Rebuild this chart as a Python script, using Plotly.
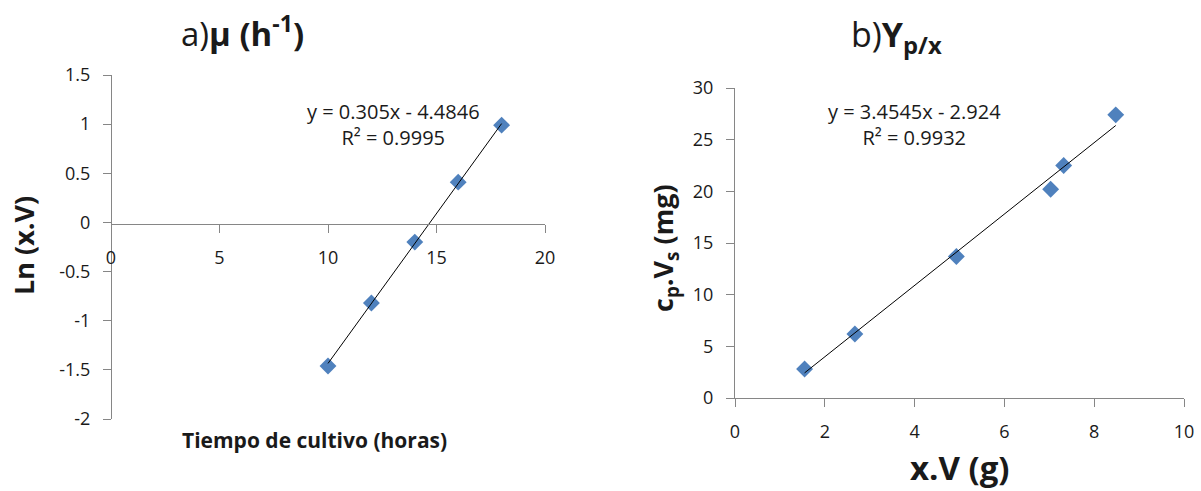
import numpy as np
import plotly.graph_objects as go

# ---- data ----
t_hours = [10, 12, 14, 16, 18]
ln_xv = [-1.46, -0.82, -0.20, 0.41, 0.99]
fit_a = (0.305, -4.4846)
eq_a = "y = 0.305x - 4.4846<br>R² = 0.9995"
ya_ticks = [-2, -1.5, -1, -0.5, 0, 0.5, 1, 1.5]
ya_labels = ["-2", "-1.5", "-1", "-0.5", "0", "0.5", "1", "1.5"]

xv_g = [1.55, 2.67, 4.93, 7.03, 7.32, 8.48]
cpvs_mg = [2.8, 6.2, 13.7, 20.2, 22.5, 27.4]
fit_b = (3.4545, -2.924)
eq_b = "y = 3.4545x - 2.924<br>R² = 0.9932"

W, H = 1201, 491
FONT = "Open Sans"
AX = "#868686"
BLUE = "#4F81BD"
TXT = "#1a1a1a"

def px(x):
    return x / W

def py(y):
    return 1 - y / H

fig = go.Figure()

# left panel
fig.add_trace(go.Scatter(x=t_hours, y=ln_xv, mode="markers",
                         marker=dict(symbol="diamond", size=13, color=BLUE),
                         xaxis="x", yaxis="y", showlegend=False))
ta = np.array([min(t_hours), max(t_hours)])
fig.add_trace(go.Scatter(x=ta, y=fit_a[0] * ta + fit_a[1], mode="lines",
                         line=dict(color="#000000", width=1),
                         xaxis="x", yaxis="y", showlegend=False))

# right panel
fig.add_trace(go.Scatter(x=xv_g, y=cpvs_mg, mode="markers",
                         marker=dict(symbol="diamond", size=13, color=BLUE),
                         xaxis="x2", yaxis="y2", showlegend=False))
tb = np.array([min(xv_g), max(xv_g)])
fig.add_trace(go.Scatter(x=tb, y=fit_b[0] * tb + fit_b[1], mode="lines",
                         line=dict(color="#000000", width=1),
                         xaxis="x2", yaxis="y2", showlegend=False))

axis_common = dict(showgrid=False, zeroline=False, showline=True, linecolor=AX,
                   linewidth=1.3, ticks="outside", tickcolor=AX, ticklen=8,
                   tickwidth=1.3, automargin=False, ticklabelstandoff=9,
                   tickfont=dict(family=FONT, size=18, color=TXT))

fig.update_layout(
    template="none",
    width=W, height=H,
    margin=dict(l=0, r=0, t=0, b=0, pad=0),
    paper_bgcolor="white", plot_bgcolor="white",
    font=dict(family=FONT, color=TXT),
    xaxis=dict(domain=[px(111), px(545)], range=[0, 20], dtick=5,
               anchor="free", position=py(224), **axis_common),
    yaxis=dict(domain=[py(419), py(75)], range=[-2, 1.5],
               tickmode="array", tickvals=ya_ticks, ticktext=ya_labels,
               anchor="free", position=px(111), **axis_common),
    xaxis2=dict(domain=[px(735), px(1184)], range=[0, 10], dtick=2,
                anchor="y2", **axis_common),
    yaxis2=dict(domain=[py(398), py(88)], range=[0, 30], dtick=5,
                anchor="x2", **axis_common),
)

ann = [
    dict(text="a)<b>μ (h<sup>-1</sup>)</b>", x=px(242), y=py(31), size=33),
    dict(text="b)<b>Y<sub>p/x</sub></b>", x=px(896), y=py(36), size=34),
    dict(text="<b>Tiempo de cultivo (horas)</b>", x=px(314), y=py(440), size=21),
    dict(text="<b>x.V (g)</b>", x=px(960), y=py(467), size=33),
    dict(text=eq_a, x=px(393), y=py(124), size=20),
    dict(text=eq_b, x=px(914), y=py(124), size=20),
]
for a in ann:
    fig.add_annotation(text=a["text"], x=a["x"], y=a["y"], xref="paper", yref="paper",
                       showarrow=False, xanchor="center", yanchor="middle",
                       font=dict(family=FONT, size=a["size"], color=TXT))

fig.add_annotation(text="<b>Ln (x.V)</b>", x=px(24), y=py(246), xref="paper", yref="paper",
                   showarrow=False, textangle=-90, xanchor="center", yanchor="middle",
                   font=dict(family=FONT, size=27, color=TXT))
fig.add_annotation(text="<b>c<sub>p</sub>.V<sub>s</sub> (mg)</b>", x=px(664), y=py(248),
                   xref="paper", yref="paper", showarrow=False, textangle=-90,
                   xanchor="center", yanchor="middle",
                   font=dict(family=FONT, size=27, color=TXT))

fig.write_html("out.html", config={"displayModeBar": False},
               post_script="document.body.style.margin='0';")
